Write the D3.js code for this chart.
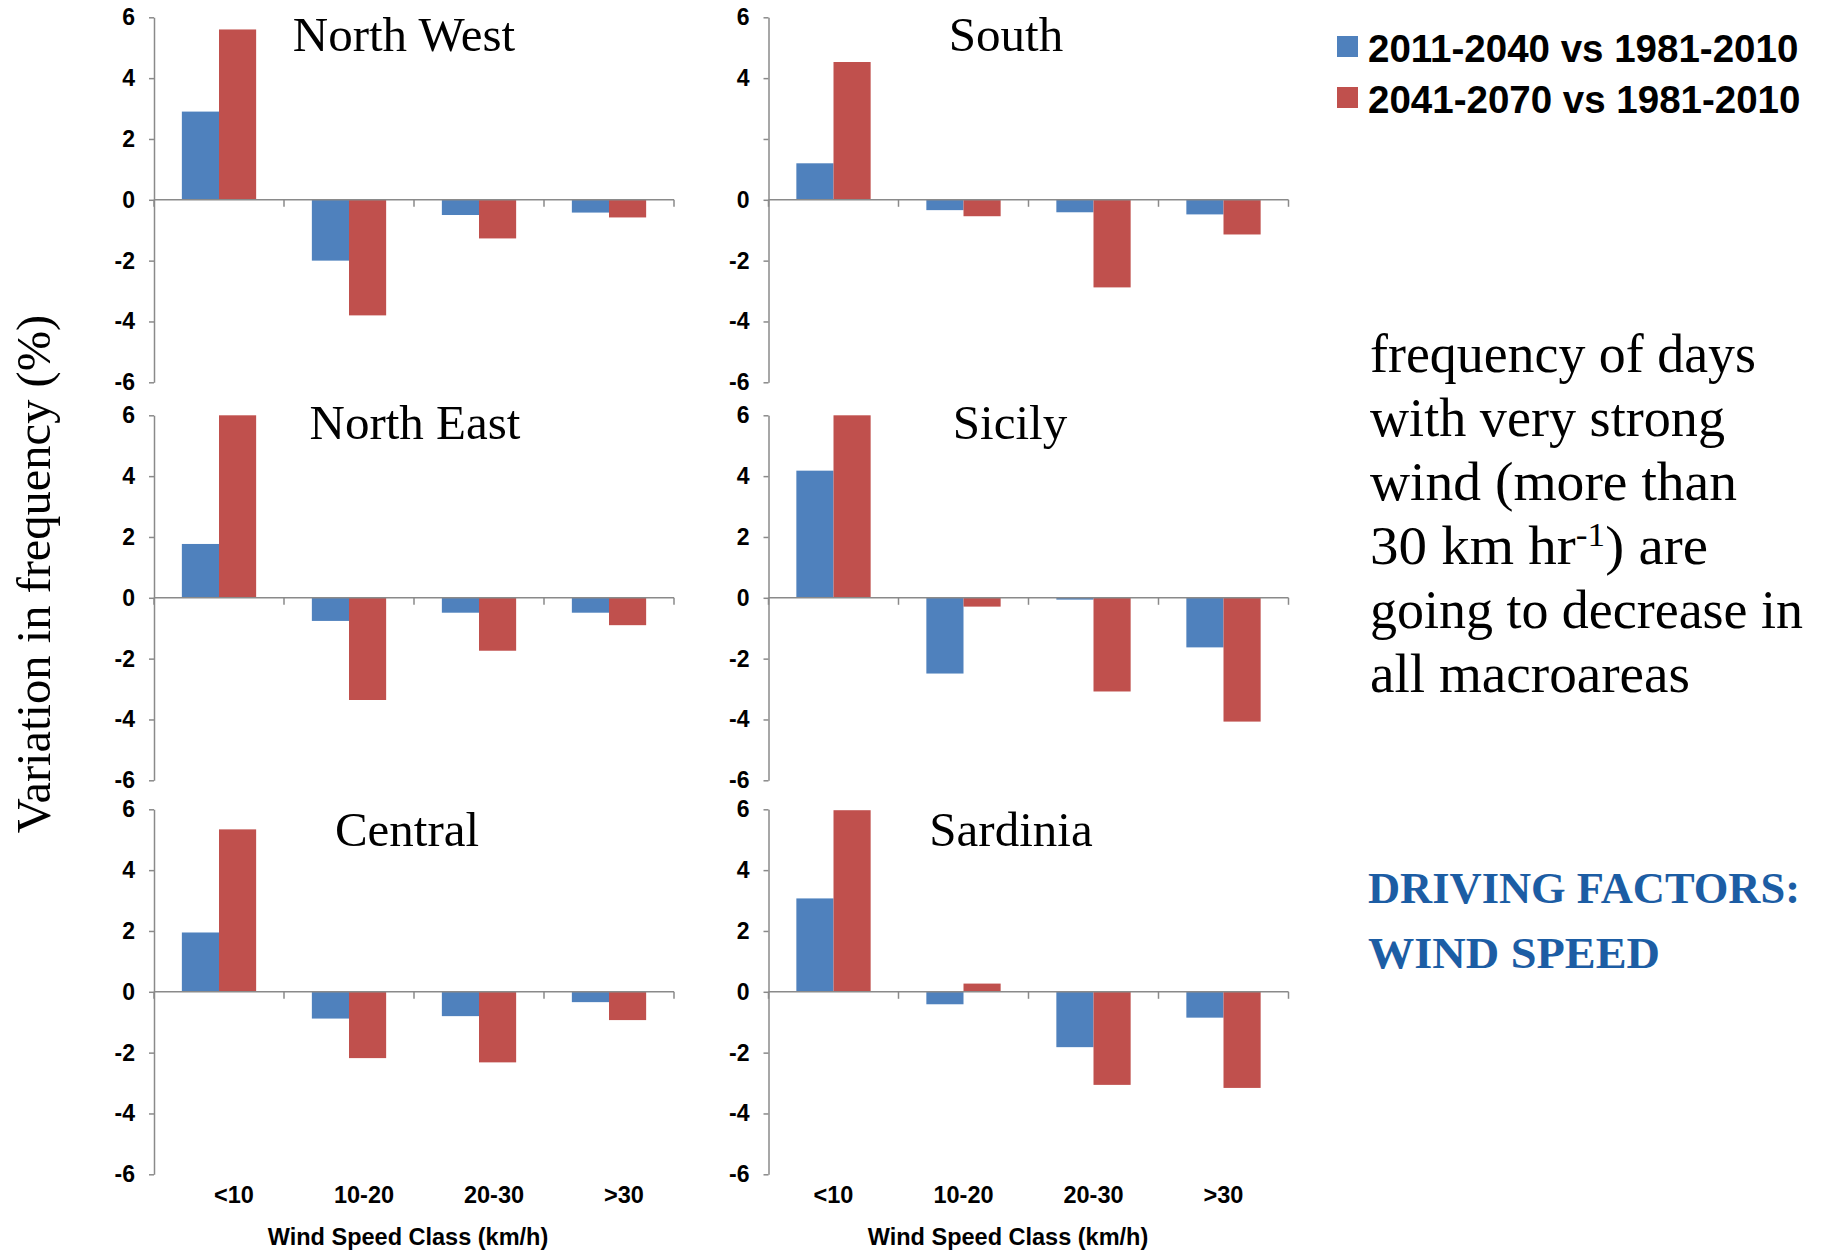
<!DOCTYPE html>
<html><head><meta charset="utf-8">
<script src="https://cdn.jsdelivr.net/npm/d3@7"></script>
<style>body{margin:0;background:#fff}svg{display:block}</style>
</head><body>
<svg id="chart" width="1822" height="1251"></svg>
<script>
// ---- data ----
const categories = ["<10", "10-20", "20-30", ">30"];
const seriesNames = ["2011-2040 vs 1981-2010", "2041-2070 vs 1981-2010"];
const regions = ["North West", "South", "North East", "Sicily", "Central", "Sardinia"];
// 2011-2040 vs 1981-2010 (blue), one row per region, in the order above
const values2011_2040 = [
  [2.9, -2.0, -0.5, -0.42],
  [1.2, -0.34, -0.41, -0.48],
  [1.77, -0.76, -0.49, -0.49],
  [4.18, -2.49, -0.06, -1.63],
  [1.95, -0.88, -0.8, -0.34],
  [3.07, -0.41, -1.82, -0.85]
];
// 2041-2070 vs 1981-2010 (red)
const values2041_2070 = [
  [5.6, -3.8, -1.27, -0.58],
  [4.53, -0.54, -2.88, -1.14],
  [6.0, -3.36, -1.74, -0.9],
  [6.0, -0.29, -3.08, -4.07],
  [5.34, -2.18, -2.32, -0.93],
  [5.97, 0.27, -3.06, -3.16]
];
const yTicks = [-6, -4, -2, 0, 2, 4, 6];
const yDomain = [-6, 6];
const xAxisTitle = "Wind Speed Class (km/h)";
const yAxisTitle = "Variation in frequency (%)";
const noteLines = ["frequency of days", "with very strong", "wind (more than", "30 km hr|-1|) are", "going to decrease in", "all macroareas"];
const factorLines = ["DRIVING FACTORS:", "WIND SPEED"];

// ---- layout ----
const colors = ["#4F81BD", "#C0504D"];
const axisColor = "#8a8a8a";
const colX = [154, 768.5];
const plotW = 520;
const rowTop = [17.3, 415.3, 809.3];
const plotH = 365;
const titleX = [404, 1006, 415, 1010, 407, 1011];
const titleBaseline = [51, 439, 846];
const catLabelShift = [15, 0];
const xTitleX = [408, 1008];

const svg = d3.select("#chart");

regions.forEach((name, i) => {
  const col = i % 2, row = Math.floor(i / 2);
  const x0 = colX[col], top = rowTop[row];
  const g = svg.append("g");

  const x = d3.scaleBand().domain(categories).range([x0, x0 + plotW]).padding(0);
  const xs = d3.scaleBand().domain(seriesNames).range([0, x.bandwidth()]).paddingInner(0).paddingOuter(0.75);
  const y = d3.scaleLinear().domain(yDomain).range([top + plotH, top]);

  // bars
  const data = [];
  categories.forEach((c, k) => {
    data.push({c, s: seriesNames[0], v: values2011_2040[i][k], col: colors[0]});
    data.push({c, s: seriesNames[1], v: values2041_2070[i][k], col: colors[1]});
  });
  g.selectAll("rect.bar").data(data).enter().append("rect")
    .attr("class", "bar")
    .attr("x", d => x(d.c) + xs(d.s))
    .attr("width", xs.bandwidth())
    .attr("y", d => y(Math.max(0, d.v)))
    .attr("height", d => Math.abs(y(d.v) - y(0)))
    .attr("fill", d => d.col);

  // y axis
  const yAxis = d3.axisLeft(y).tickValues(yTicks).tickSize(5).tickSizeOuter(0).tickPadding(14)
    .tickFormat(d => (name === "South" && d === 2) ? "" : String(d));
  const ya = g.append("g").attr("transform", `translate(${x0},0)`).call(yAxis);
  ya.select(".domain").attr("stroke", axisColor).attr("stroke-width", 1.5);
  ya.selectAll(".tick line").attr("stroke", axisColor).attr("stroke-width", 1.5);
  ya.selectAll(".tick text")
    .attr("fill", "#000")
    .style("font-family", "'Liberation Sans', Arial, sans-serif")
    .style("font-weight", "bold")
    .style("font-size", "23px");

  // x axis line at zero with category ticks
  g.append("line").attr("x1", x0).attr("x2", x0 + plotW)
    .attr("y1", y(0)).attr("y2", y(0))
    .attr("stroke", axisColor).attr("stroke-width", 1.5);
  const bounds = categories.map(c => x(c)).concat([x0 + plotW]);
  g.selectAll("line.xt").data(bounds).enter().append("line")
    .attr("class", "xt")
    .attr("x1", d => d).attr("x2", d => d)
    .attr("y1", y(0)).attr("y2", y(0) + 7)
    .attr("stroke", axisColor).attr("stroke-width", 1.5);

  // panel title
  g.append("text").attr("x", titleX[i]).attr("y", titleBaseline[row])
    .attr("text-anchor", "middle")
    .style("font-family", "'Liberation Serif', 'Times New Roman', serif")
    .style("font-size", "49px")
    .attr("fill", "#000")
    .text(name);

  // bottom row: category labels + axis title
  if (row === 2) {
    g.selectAll("text.cat").data(categories).enter().append("text")
      .attr("class", "cat")
      .attr("x", d => x(d) + x.bandwidth() / 2 + catLabelShift[col])
      .attr("y", 1203)
      .attr("text-anchor", "middle")
      .style("font-family", "'Liberation Sans', Arial, sans-serif")
      .style("font-weight", "bold")
      .style("font-size", "23.5px")
      .text(d => d);
    g.append("text").attr("x", xTitleX[col]).attr("y", 1245)
      .attr("text-anchor", "middle")
      .style("font-family", "'Liberation Sans', Arial, sans-serif")
      .style("font-weight", "bold")
      .style("font-size", "23.5px")
      .text(xAxisTitle);
  }
});

// y axis title
svg.append("text")
  .attr("transform", "translate(50,574) rotate(-90)")
  .attr("text-anchor", "middle")
  .style("font-family", "'Liberation Serif', 'Times New Roman', serif")
  .style("font-size", "48.5px")
  .text(yAxisTitle);

// legend
const leg = svg.append("g");
const legY = [36, 87];
seriesNames.forEach((s, k) => {
  leg.append("rect").attr("x", 1337).attr("y", legY[k]).attr("width", 21).attr("height", 21).attr("fill", colors[k]);
  leg.append("text").attr("x", 1368).attr("y", legY[k] + 26)
    .style("font-family", "'Liberation Sans', Arial, sans-serif")
    .style("font-weight", "bold").style("font-size", "38.5px")
    .text(s);
});

// note text
const noteBase = [372, 436, 500, 564, 628, 692];
const noteWidth = [386, 355, 367, 338, 433, 320];
noteLines.forEach((line, k) => {
  const t = svg.append("text").attr("x", 1370).attr("y", noteBase[k])
    .style("font-family", "'Liberation Serif', 'Times New Roman', serif")
    .style("font-size", "55px")
    .attr("textLength", noteWidth[k]).attr("lengthAdjust", "spacingAndGlyphs");
  const parts = line.split("|");
  parts.forEach((p, j) => {
    const ts = t.append("tspan").text(p);
    if (j === 1) ts.attr("baseline-shift", "super").style("font-size", "34px");
  });
});

// driving factors
const dfBase = [903, 968];
const dfWidth = [432, 292];
factorLines.forEach((line, k) => {
  svg.append("text").attr("x", 1368).attr("y", dfBase[k])
    .style("font-family", "'Liberation Serif', 'Times New Roman', serif")
    .style("font-size", "45px")
    .style("font-weight", "bold")
    .attr("fill", "#1C5DA4")
    .attr("textLength", dfWidth[k]).attr("lengthAdjust", "spacingAndGlyphs")
    .text(line);
});
</script>
</body></html>
